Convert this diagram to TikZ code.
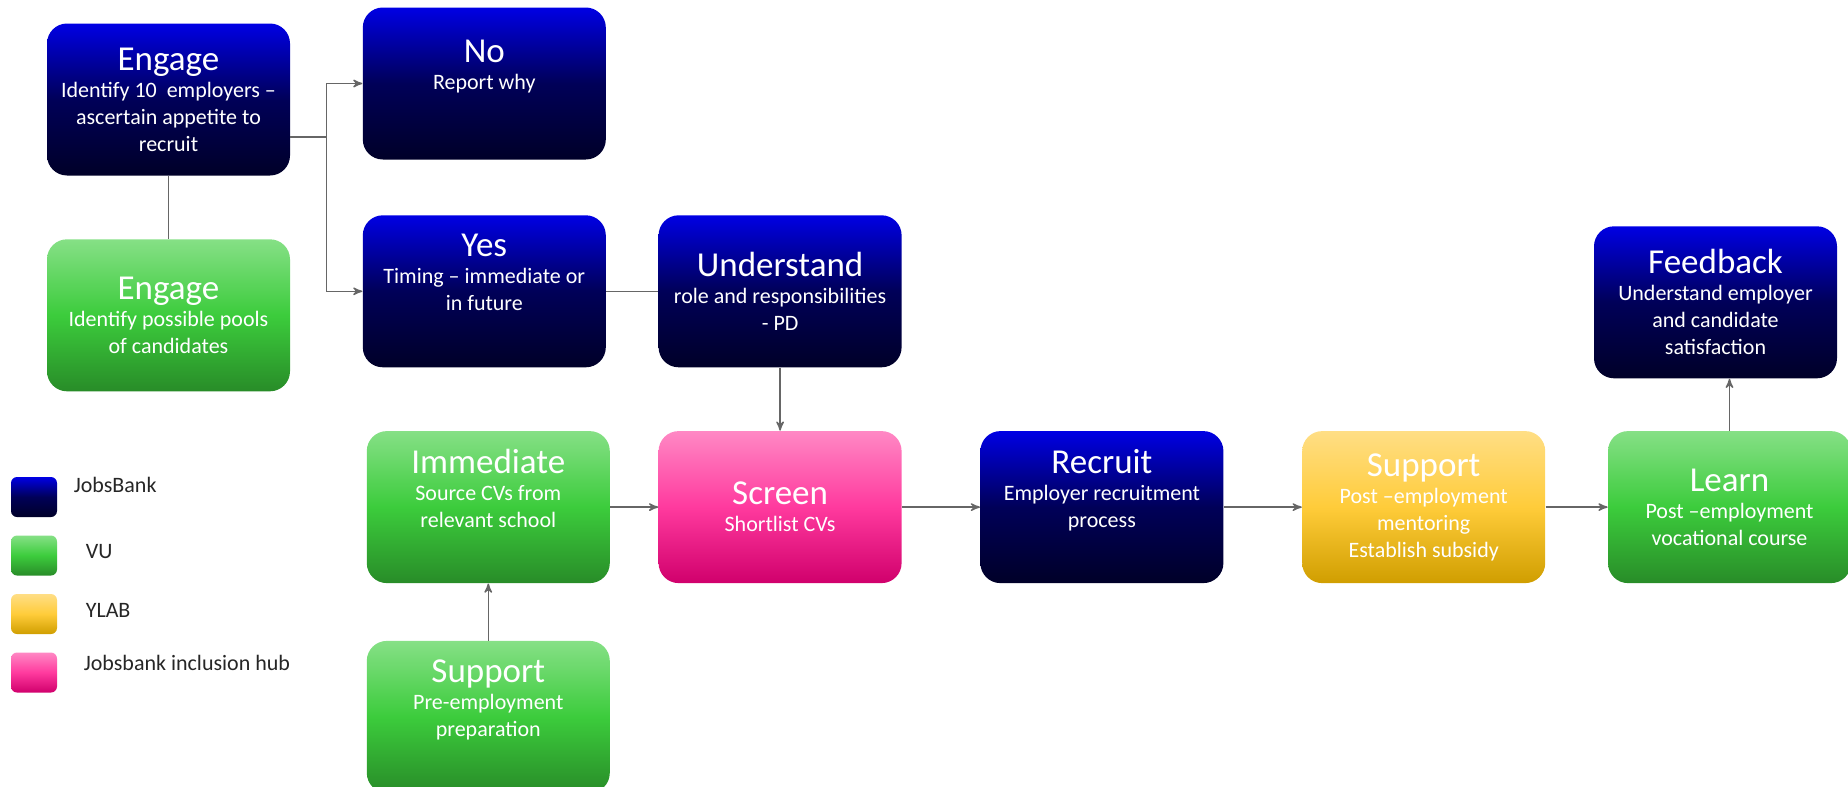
\documentclass[tikz,border=0pt]{standalone}
\usepackage{fontspec}
\setmainfont{Carlito}
\usepackage{tikz}
\usetikzlibrary{arrows, positioning, calc}

\definecolor{jbtop}{RGB}{0,0,228}
\definecolor{jbmid}{RGB}{0,0,88}
\definecolor{jbbot}{RGB}{0,0,40}
\definecolor{vutop}{RGB}{134,224,134}
\definecolor{vumid}{RGB}{60,204,60}
\definecolor{vubot}{RGB}{40,140,40}
\definecolor{yltop}{RGB}{255,222,133}
\definecolor{ylmid}{RGB}{255,204,58}
\definecolor{ylbot}{RGB}{208,158,0}
\definecolor{hubtop}{RGB}{255,136,196}
\definecolor{hubmid}{RGB}{255,58,158}
\definecolor{hubbot}{RGB}{208,0,108}

\newcommand{\ttl}[1]{{\fontsize{17.5}{21}\selectfont #1}}

\begin{document}
\begin{tikzpicture}[x=0.5pt, y=0.5pt,
			card/.style={rectangle, rounded corners=10pt, minimum width=121.5pt, minimum height=76pt,
					inner sep=2pt, align=center, text=white, font=\fontsize{11}{13.5}\selectfont},
			jobsbank/.style={top color=jbtop, bottom color=jbbot, middle color=jbmid},
			vu/.style={top color=vutop, bottom color=vubot, middle color=vumid},
			ylab/.style={top color=yltop, bottom color=ylbot, middle color=ylmid},
			hub/.style={top color=hubtop, bottom color=hubbot, middle color=hubmid},
			raised/.style={text depth=19pt},
			key/.style={rectangle, rounded corners=3pt, minimum width=23pt, minimum height=20pt, inner sep=0pt},
			keytext/.style={inner sep=0pt, text=black!85, font=\fontsize{11}{13.5}\selectfont},
			link/.style={draw=black!60, line width=0.7pt},
			flow/.style={link, -stealth'}]

		\useasboundingbox (0,0) rectangle (1848,-787);

		% Define nodes
		\node[card, jobsbank] (engage) at (168.5,-99.5) {\ttl{Engage}\\Identify 10~ employers --\\ascertain appetite to\\recruit};
		\node[card, jobsbank, raised, right=36pt of engage, yshift=8pt] (no) {\ttl{No}\\Report why};
		\node[card, jobsbank, raised, below=27.5pt of no] (yes) {\ttl{Yes}\\Timing -- immediate or\\in future};
		\node[card, vu, below=31.5pt of engage] (pools) {\ttl{Engage}\\Identify possible pools\\of candidates};
		\node[card, jobsbank, right=26pt of yes] (understand) {\ttl{Understand}\\role and responsibilities\\- PD};
		\node[card, hub, below=31.5pt of understand] (screen) {\ttl{Screen}\\Shortlist CVs};
		\node[card, vu, raised, left=24pt of screen] (immediate) {\ttl{Immediate}\\Source CVs from\\relevant school};
		\node[card, vu, raised, below=28.5pt of immediate] (prep) {\ttl{Support}\\Pre-employment\\preparation};
		\node[card, jobsbank, raised, right=39pt of screen] (recruit) {\ttl{Recruit}\\Employer recruitment\\process};
		\node[card, ylab, right=39pt of recruit] (mentor) {\ttl{Support}\\Post --employment\\mentoring\\Establish subsidy};
		\node[card, vu, right=31pt of mentor] (learn) {\ttl{Learn}\\Post --employment\\vocational course};
		\node[card, jobsbank, above=26pt of learn, xshift=-7pt] (feedback) {\ttl{Feedback}\\Understand employer\\and candidate\\satisfaction};

		% Draw connections
		\draw[link] ([yshift=-18.75pt]engage.east) -- ++(18pt,0) coordinate (fork);
		\draw[flow] (fork) |- (no.west);
		\draw[flow] (fork) |- (yes.west);
		\draw[link] (engage) -- (pools);
		\draw[link] (yes) -- (understand);
		\draw[flow] (understand) -- (screen);
		\draw[flow] (immediate) -- (screen);
		\draw[flow] (prep) -- (immediate);
		\draw[flow] (screen) -- (recruit);
		\draw[flow] (recruit) -- (mentor);
		\draw[flow] (mentor) -- (learn);
		\draw[flow] (learn.north) -- (learn.north |- feedback.south);

		% Legend
		\foreach [count=\i] \c/\l/\dx/\dy in {jobsbank/JobsBank/8pt/6pt, vu/VU/14pt/1.75pt,
				ylab/YLAB/14pt/1.75pt, hub/Jobsbank inclusion hub/13pt/5pt}
			{
				\node[key, \c] (key\i) at (34,{-497-58.5*(\i-1)}) {};
				\node[keytext, right=\dx of key\i, yshift=\dy] (keytext\i) {\l};
			}

	\end{tikzpicture}
\end{document}
